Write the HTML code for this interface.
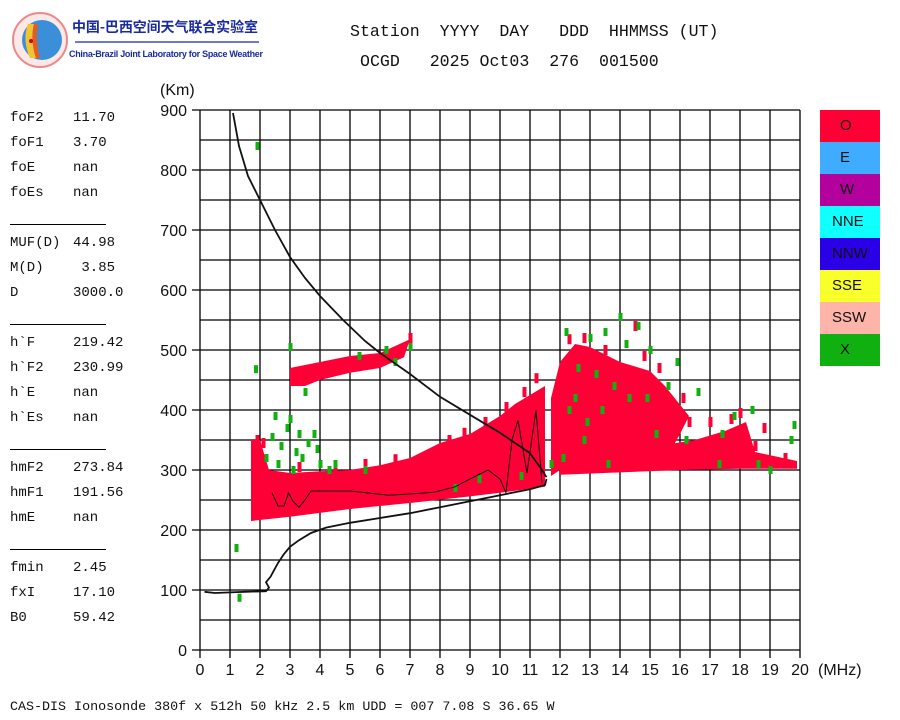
<!DOCTYPE html>
<html><head><meta charset="utf-8"><style>
body{margin:0;background:#fff;width:900px;height:720px;overflow:hidden;position:relative;font-family:"Liberation Sans",sans-serif}
.mono{font-family:"Liberation Mono","Noto Sans CJK SC",monospace;white-space:pre;position:absolute;color:#111}
</style></head><body>
<svg id="chart" width="900" height="720" style="position:absolute;left:0;top:0" xmlns="http://www.w3.org/2000/svg">
<g>
<circle cx="40" cy="40" r="27" fill="#fde8e8" stroke="#e88" stroke-width="2"/>
<circle cx="42" cy="40" r="20" fill="#3a8fd8"/>
<path d="M28 24 Q22 40 30 58 L36 58 Q30 40 34 24Z" fill="#f4c430"/>
<path d="M34 24 Q30 40 36 58 L40 58 Q35 40 38 24Z" fill="#e85a20"/>
<circle cx="31" cy="41" r="2" fill="#c00"/>
<text x="72" y="32" font-family="'Noto Sans CJK SC',sans-serif" font-size="14" font-weight="bold" fill="#1a2aa0" textLength="186">中国-巴西空间天气联合实验室</text>
<line x1="75" y1="42" x2="259" y2="42" stroke="#1a2aa0" stroke-width="1.2"/>
<text x="69" y="57" font-size="9" font-weight="bold" fill="#1a2aa0" textLength="194">China-Brazil Joint Laboratory for Space Weather</text>
</g>
<g id="grid"></g>
<g id="echoes"></g>
<g id="curves"></g>
<g id="axes"></g>
<g id="legend"></g>
</svg>
<div class="mono" style="left:350px;top:22px;font-size:16.6px">Station  YYYY  DAY   DDD  HHMMSS (UT)</div>
<div class="mono" style="left:360px;top:52px;font-size:16.6px">OCGD   2025 Oct03  276  001500</div>
<div id="params"></div>
<div class="mono" style="left:10px;top:700px;font-size:13.35px">CAS-DIS Ionosonde 380f x 512h 50 kHz 2.5 km UDD = 007 7.08 S 36.65 W</div>
<script>
const xTicks=[0,1,2,3,4,5,6,7,8,9,10,11,12,13,14,15,16,17,18,19,20];
const yTicks=[0,100,200,300,400,500,600,700,800,900];
const legendLabels=["O","E","W","NNE","NNW","SSE","SSW","X"];
const legendColors=["#ff0036","#40acff","#b4009c","#10ffff","#2a00e6","#f8ff2a","#ffb4aa","#10b010"];
const paramNames=["foF2","foF1","foE","foEs","","MUF(D)","M(D)","D","","h`F","h`F2","h`E","h`Es","","hmF2","hmF1","hmE","","fmin","fxI","B0"];
const paramValues=["11.70","3.70","nan","nan","","44.98"," 3.85","3000.0","","219.42","230.99","nan","nan","","273.84","191.56","nan","","2.45","17.10","59.42"];
const redLowBand=[[1.7,215],[3,222],[5,235],[7,245],[9,256],[10,262],[11.5,272],[11.5,440],[11,425],[10.5,410],[10,390],[9,360],[8,345],[7,320],[6,308],[5,300],[4,298],[3,295],[2.3,300],[2,350],[1.7,350]];
const redUpperBand=[[3,440],[3,470],[4,480],[5,490],[6,495],[7,518],[6.8,488],[6,470],[5,462],[4,450],[3.5,440]];
const redRightBlob=[[11.7,290],[12,300],[13,305],[14,312],[15,318],[15.6,325],[16,360],[16.3,390],[15.5,440],[15,465],[14,480],[13,505],[12.5,510],[12,480],[11.7,420]];
const redRightBand=[[12,292],[14,296],[16,300],[18,302],[19.9,302],[19.9,315],[18.5,330],[18.2,380],[17.5,365],[16.5,350],[15,338],[13,320],[12,310]];
const redDots=[[1.9,350],[2.1,345],[6.1,485],[11.2,453],[13.9,450],[14.4,460],[15.7,390],[18.5,340],[18.8,370],[19.5,320],[17.7,385],[12.3,518],[14.5,540],[7.0,520],[16.3,380],[8.3,350],[8.8,362],[9.5,380],[10.2,405],[10.8,430],[5.5,310],[6.5,318],[4.5,305],[3.3,305],[12.8,520],[13.5,500],[14.8,490],[15.3,470],[16.1,420],[17.0,380],[18.0,395]];
const greenDots=[[1.9,840],[1.2,170],[1.3,87],[1.85,468],[3.0,505],[3.5,430],[3.8,360],[2.5,390],[2.9,370],[3.0,385],[3.2,330],[3.4,320],[4.0,310],[4.5,310],[5.5,300],[6.2,500],[7.0,505],[6.5,480],[5.3,490],[12.2,530],[13.0,520],[13.5,530],[14,555],[14.6,540],[14.2,510],[15,500],[15.9,480],[12.6,470],[13.2,460],[12.3,400],[12.8,350],[14.3,420],[15.2,360],[16.6,430],[17.4,360],[17.8,390],[18.4,400],[19.8,375],[19.7,350],[18.6,310],[19,300],[17.3,310],[13.6,310],[12.1,320],[11.7,310],[10.7,290],[9.3,285],[8.5,270],[2.6,310],[3.1,300],[2.2,320],[4.3,300],[2.7,340],[3.6,345],[3.9,335],[2.4,355],[3.3,360],[12.5,420],[13.8,440],[14.9,420],[12.9,380],[13.4,400],[15.6,440],[16.2,350]];
const virtualTrace=[[1.1,895],[1.3,840],[1.6,790],[2,750],[2.5,700],[3,655],[3.5,620],[4,590],[4.77,550],[5.5,515],[6,495],[7,460],[8,422],[9,392],[10,362],[10.5,345],[11,328],[11.4,300],[11.55,288]];
const trueProfile=[[0.15,97],[0.5,95],[1,96],[1.5,97],[2.2,98],[2.3,104],[2.2,113],[2.35,122],[2.6,145],[2.8,160],[3,172],[3.3,183],[3.7,195],[4.2,204],[5,212],[6,220],[7,228],[8,238],[9,248],[10,258],[11,268],[11.5,275],[11.55,285]];
const oTrace=[[2.4,262],[2.6,240],[2.8,240],[2.95,262],[3.1,248],[3.3,238],[3.5,250],[3.7,265],[4.2,265],[5,265],[6.3,258],[7,260],[7.8,263],[8.5,272],[9,285],[9.6,300],[10,285],[10.2,262],[10.4,350],[10.6,383],[10.9,295],[11.2,400],[11.4,278]];
const X=f=>200+f*30, Y=h=>650-h*0.6;
const NS="http://www.w3.org/2000/svg";
function mk(tag,attrs,parent){const e=document.createElementNS(NS,tag);for(const k in attrs)e.setAttribute(k,attrs[k]);parent.appendChild(e);return e;}
const grid=document.getElementById('grid');
for(let f=0;f<=20;f++){const l=mk('line',{x1:X(f),x2:X(f),y1:Y(900),y2:Y(0)+8,stroke:'#000','stroke-width':1.3},grid);

}
for(let h=0;h<=900;h+=50){const l=mk('line',{x1:h%100==0?X(0)-8:X(0),x2:X(20),y1:Y(h),y2:Y(h),stroke:'#000','stroke-width':1.3},grid);

}
const ech=document.getElementById('echoes');
const pts=a=>a.map(p=>X(p[0])+','+Y(p[1])).join(' ');
[[redLowBand,'red-low-band'],[redUpperBand,'red-upper-band'],[redRightBlob,'red-right-blob'],[redRightBand,'red-right-band']].forEach(([a,n])=>{
const p=mk('polygon',{points:pts(a),fill:'#ff0036'},ech);

});
redDots.forEach(d=>{const r=mk('rect',{x:X(d[0])-1.5,y:Y(d[1])-5,width:4,height:10,fill:'#ff0036'},ech);

});
greenDots.forEach(d=>{const r=mk('rect',{x:X(d[0])-1.5,y:Y(d[1])-4,width:4,height:8,fill:'#10b010'},ech);

});
const cv=document.getElementById('curves');
[[virtualTrace,'virtual-height-trace',1.8],[trueProfile,'true-height-profile',1.8],[oTrace,'o-trace-fit',1]].forEach(([a,n,w])=>{
const p=mk('polyline',{points:pts(a),fill:'none',stroke:'#111','stroke-width':w},cv);

});
const ax=document.getElementById('axes');
yTicks.forEach(h=>{const t=mk('text',{x:187,y:Y(h)+6,'text-anchor':'end','font-size':16,fill:'#111'},ax);t.textContent=h;

});
xTicks.forEach(f=>{const t=mk('text',{x:X(f),y:675,'text-anchor':'middle','font-size':16,fill:'#111'},ax);t.textContent=f;

});
let t=mk('text',{x:818,y:675,'font-size':16,fill:'#111'},ax);t.textContent='(MHz)';


t=mk('text',{x:160,y:95,'font-size':16,fill:'#111'},ax);t.textContent='(Km)';


const lg=document.getElementById('legend');
legendLabels.forEach((lab,i)=>{const r=mk('rect',{x:820,y:110+i*32,width:60,height:32,fill:legendColors[i]},lg);


const tx=mk('text',{x:lab.length>1?832:840,y:130+i*32,'font-size':15,fill:'#111'},lg);tx.textContent=lab;

});
const pp=document.getElementById('params');
paramNames.forEach((n,i)=>{const y=110+i*25;
if(n===''){const d=document.createElement('div');d.style.cssText='position:absolute;left:10px;top:'+(y+14)+'px;width:96px;height:1px;background:#000';

pp.appendChild(d);return;}
const a=document.createElement('div');a.className='mono';a.style.cssText='left:10px;top:'+y+'px;font-size:14px';a.textContent=n;

pp.appendChild(a);
const b=document.createElement('div');b.className='mono';b.style.cssText='left:73px;top:'+y+'px;font-size:14px';b.textContent=paramValues[i];

pp.appendChild(b);});
</script>
</body></html>
